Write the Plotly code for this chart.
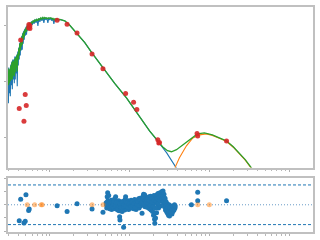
import numpy as np
import plotly.graph_objects as go
from plotly.subplots import make_subplots

# ---------------- data (log10 wavelength [um], log10 flux) ----------------
spec_loglam = [-0.525, -0.520, -0.515, -0.509, -0.503, -0.496, -0.490, -0.484, -0.478, -0.471,
               -0.465, -0.459, -0.453, -0.446, -0.440, -0.434, -0.428, -0.421, -0.415, -0.409,
               -0.403, -0.396, -0.390, -0.384, -0.378, -0.371, -0.365, -0.359, -0.353, -0.346,
               -0.340, -0.334, -0.328, -0.321, -0.315, -0.308, -0.300, -0.293, -0.285, -0.278,
               -0.269, -0.260, -0.250, -0.240, -0.230, -0.220, -0.209, -0.198, -0.186, -0.175,
               -0.163, -0.150, -0.138, -0.125, -0.113, -0.100, -0.088, -0.075, -0.063, -0.050,
               -0.038, -0.025, -0.013, 0.000, 0.013, 0.025, 0.038, 0.050, 0.063, 0.075,
               0.088, 0.106, 0.125]
star_spec_logf = [-9.850, -10.381, -9.743, -10.204, -9.779, -10.257, -9.690, -10.062, -9.637, -10.133,
                  -9.602, -9.956, -9.602, -10.027, -9.549, -9.956, -9.549, -9.850, -9.513, -10.080,
                  -9.460, -9.708, -9.389, -9.602, -9.301, -9.531, -9.230, -9.442, -9.177, -9.425,
                  -9.124, -9.319, -9.088, -9.248, -9.053, -9.177, -9.018, -9.159, -8.982, -9.088,
                  -8.965, -9.053, -8.938, -9.018, -8.920, -8.982, -8.903, -8.965, -8.885, -8.947,
                  -8.876, -9.000, -8.867, -8.929, -8.858, -8.912, -8.850, -8.947, -8.850, -8.894,
                  -8.858, -8.947, -8.858, -8.894, -8.858, -8.912, -8.867, -8.965, -8.876, -8.912,
                  -8.876, -8.903, -8.885]
total_spec_logf = [-9.814, -10.062, -9.761, -10.027, -9.779, -9.991, -9.708, -9.956, -9.655, -9.956,
                   -9.619, -9.885, -9.637, -9.903, -9.584, -9.832, -9.566, -9.743, -9.531, -9.814,
                   -9.496, -9.602, -9.407, -9.531, -9.319, -9.442, -9.248, -9.372, -9.195, -9.336,
                   -9.142, -9.248, -9.106, -9.195, -9.071, -9.124, -9.035, -9.106, -9.000, -9.053,
                   -8.965, -9.018, -8.947, -8.982, -8.929, -8.947, -8.912, -8.929, -8.894, -8.912,
                   -8.885, -8.912, -8.867, -8.894, -8.858, -8.876, -8.850, -8.876, -8.850, -8.867,
                   -8.858, -8.876, -8.858, -8.867, -8.858, -8.876, -8.867, -8.894, -8.876, -8.885,
                   -8.876, -8.894, -8.885]

# smooth photosphere tail
star_tail_loglam = [0.188, 0.250, 0.300, 0.338, 0.438, 0.525, 0.663, 0.813, 0.963, 1.163,
                    1.250, 1.350, 1.463, 1.575, 1.700]
star_tail_logf = [-8.912, -8.991, -9.071, -9.124, -9.301, -9.478, -9.743, -10.027, -10.292, -10.699,
                  -10.876, -11.053, -11.265, -11.513, -11.761]

# total model beyond the shared part
total_tail_loglam = [1.350, 1.413, 1.475, 1.525, 1.588, 1.688, 1.775, 1.850, 1.938, 2.038,
                     2.125, 2.213, 2.300, 2.375, 2.450, 2.525, 2.650]
total_tail_logf = [-11.044, -11.159, -11.230, -11.248, -11.212, -11.106, -11.000, -10.929, -10.912, -10.947,
                   -11.000, -11.053, -11.159, -11.265, -11.389, -11.531, -11.761]

# dust component
dust_loglam = [1.525, 1.575, 1.625, 1.713, 1.788, 1.875, 1.963, 2.038, 2.125, 2.213,
               2.300, 2.375, 2.450, 2.525, 2.650]
dust_logf = [-11.850, -11.513, -11.354, -11.142, -11.009, -10.947, -10.929, -10.956, -11.009, -11.062,
             -11.168, -11.274, -11.398, -11.540, -11.770]

# photometry
phot_loglam = [-0.384, -0.366, -0.325, -0.309, -0.296, -0.266, -0.263, -0.250, -0.250, 0.091,
               0.216, 0.341, 0.529, 0.666, 0.950, 1.050, 1.091, 1.354, 1.366, 1.375,
               1.846, 1.854, 2.216]
phot_logf = [-10.474, -9.253, -10.704, -10.227, -10.421, -9.035, -8.977, -9.000, -9.048, -8.899,
             -8.970, -9.129, -9.501, -9.766, -10.209, -10.363, -10.492, -11.035, -11.094, -11.083,
             -10.924, -10.965, -11.058]

# residuals: photometry
res_phot_loglam = [-0.384, -0.366, -0.325, -0.309, -0.300, -0.266, -0.259, 0.091, 0.216, 0.341,
                   0.529, 0.666, 1.775, 1.854, 1.854, 2.216]
res_phot = [-2.4, 0.85, -2.75, -2.5, 1.5, -0.85, -0.65, -0.15, -1.0, 0.15,
            -0.65, -1.15, 0.0, 1.9, 0.6, 0.6]

# residuals: spectrum
res_spec_loglam = [0.706, 0.713, 0.719, 0.725, 0.729, 0.733, 0.738, 0.744, 0.750, 0.756,
                   0.763, 0.769, 0.775, 0.781, 0.788, 0.794, 0.800, 0.806, 0.813, 0.819,
                   0.825, 0.831, 0.838, 0.844, 0.850, 0.856, 0.863, 0.869, 0.875, 0.879,
                   0.883, 0.888, 0.894, 0.900, 0.906, 0.913, 0.919, 0.925, 0.931, 0.938,
                   0.944, 0.950, 0.956, 0.963, 0.969, 0.975, 0.981, 0.988, 0.994, 1.000,
                   1.006, 1.013, 1.019, 1.025, 1.031, 1.038, 1.044, 1.050, 1.056, 1.063,
                   1.069, 1.075, 1.081, 1.088, 1.094, 1.100, 1.106, 1.113, 1.119, 1.125,
                   1.131, 1.138, 1.144, 1.150, 1.156, 1.163, 1.169, 1.175, 1.181, 1.188,
                   1.194, 1.200, 1.206, 1.213, 1.219, 1.225, 1.231, 1.238, 1.244, 1.250,
                   1.256, 1.263, 1.269, 1.275, 1.281, 1.288, 1.294, 1.300, 1.306, 1.313,
                   1.316, 1.320, 1.325, 1.331, 1.338, 1.344, 1.350, 1.356, 1.363, 1.369,
                   1.375, 1.381, 1.388, 1.394, 1.400, 1.406, 1.413, 1.419, 1.425, 1.431,
                   1.438, 1.444, 1.450, 1.456, 1.463, 1.469, 1.475, 1.481, 1.488, 1.494,
                   1.500, 1.506, 1.513, 1.519, 1.525, 1.531, 1.538, 1.544, 1.550, 1.556,
                   1.563, 1.569]
res_spec = [0.3, -0.5, 1.2, 1.8, 0.6, -0.3, 1.4, 0.2, -0.6, 0.5,
            -0.2, 0.7, -0.7, 0.1, 0.4, -0.5, 0.6, -0.1, 0.9, -0.6,
            1.2, 0.2, -0.4, 0.5, -0.8, 0.1, 0.6, -0.9, -1.8, -2.3,
            -0.2, 0.4, -0.7, 0.3, -1.0, 0.5, -0.5, -3.4, 0.2, -0.8,
            0.8, 1.2, 0.0, -0.6, 0.4, -0.3, 0.6, -0.7, 0.2, 0.5,
            -0.4, 0.1, 0.7, -0.5, 0.3, -0.2, 0.6, -0.6, 0.2, 0.8,
            -0.3, 0.4, -0.7, 0.1, 0.6, -0.4, 0.3, 0.9, -0.5, 0.5,
            1.0, -0.2, 0.8, 0.2, -1.3, 0.6, 1.3, 1.6, 0.4, 1.5,
            -0.3, 0.7, 1.1, 0.0, 0.9, -0.4, 1.0, 0.3, 1.2, -0.6,
            0.5, 1.3, -0.8, 0.6, 1.1, -1.0, 0.2, -1.6, 1.4, -2.2,
            -2.8, 0.4, -2.0, 1.0, -1.2, 1.5, 0.1, 1.7, -0.5, 1.2,
            0.6, 1.8, -0.2, 1.5, 0.8, 2.0, 1.4, 2.1, 0.3, 1.6,
            -0.3, 1.0, -0.8, 0.5, -1.0, 0.2, -1.3, -0.4, -1.6, 0.0,
            -1.7, -0.6, -1.2, -0.2, -0.9, -1.4, -0.5, -1.0, -0.2, -0.8,
            0.0, -0.5]

# residuals: second spectral order (interleaved)
res_spec2_loglam = [0.709, 0.722, 0.734, 0.747, 0.759, 0.772, 0.784, 0.797, 0.809, 0.822,
                    0.834, 0.847, 0.859, 0.872, 0.884, 0.897, 0.909, 0.922, 0.934, 0.947,
                    0.959, 0.972, 0.984, 0.997, 1.009, 1.022, 1.034, 1.047, 1.059, 1.072,
                    1.084, 1.097, 1.109, 1.122, 1.134, 1.147, 1.159, 1.172, 1.184, 1.197,
                    1.209, 1.222, 1.234, 1.247, 1.259, 1.272, 1.284, 1.297, 1.309, 1.322,
                    1.334, 1.347, 1.359, 1.372, 1.384, 1.397, 1.409, 1.422, 1.434, 1.447,
                    1.459, 1.472, 1.484, 1.497, 1.509, 1.522, 1.534, 1.547, 1.559, 1.572]
res_spec2 = [0.0, 0.4, -0.2, 0.3, -0.4, 0.2, -0.3, 0.1, 0.5, -0.2,
             0.3, -0.5, 0.2, -0.3, 0.1, -0.4, 0.3, -0.2, 0.0, 0.4,
             -0.2, 0.3, -0.4, 0.1, 0.2, -0.3, 0.4, -0.1, 0.2, -0.4,
             0.3, 0.0, 0.5, -0.1, 0.6, 0.2, 0.4, 0.9, 0.1, 0.7,
             0.3, 0.8, 0.2, 0.6, -0.1, 0.9, 0.4, -0.3, 0.7, -0.5,
             0.5, 0.9, 0.2, 1.1, 0.6, 1.2, 0.9, 0.5, 1.0, 0.2,
             -0.2, -0.6, -0.3, -0.9, -0.5, -1.1, -0.7, -0.3, -0.6, -0.2]

# residuals: upper limits / excluded points
res_lim_loglam = [-0.284, -0.191, -0.109, -0.096, 0.529, 0.666, 1.854, 2.000]
res_lim = [0, 0, 0, 0, 0, 0, 0, 0]

sigma_lines = [-3, 3]
zero_line = 0

# ---------------- figure ----------------
def p10(a):
    return 10 ** np.asarray(a, dtype=float)

C0, C1, C2, C3 = '#1f77b4', '#ff7f0e', '#2ca02c', '#d62728'

fig = make_subplots(rows=2, cols=1, shared_xaxes=True, vertical_spacing=0.0)

star_x = p10(spec_loglam + star_tail_loglam)
star_y = p10(star_spec_logf + star_tail_logf)
shared_n = star_tail_loglam.index(1.250) + 1
tot_x = p10(spec_loglam + star_tail_loglam[:shared_n] + total_tail_loglam)
tot_y = p10(total_spec_logf + star_tail_logf[:shared_n] + total_tail_logf)

fig.add_trace(go.Scatter(x=star_x, y=star_y, mode='lines',
                         line=dict(color=C0, width=1.1)), row=1, col=1)
fig.add_trace(go.Scatter(x=p10(dust_loglam), y=p10(dust_logf), mode='lines',
                         line=dict(color=C1, width=1.1)), row=1, col=1)
fig.add_trace(go.Scatter(x=tot_x, y=tot_y, mode='lines',
                         line=dict(color=C2, width=1.3)), row=1, col=1)
fig.add_trace(go.Scatter(x=p10(phot_loglam), y=p10(phot_logf), mode='markers',
                         marker=dict(color=C3, size=5, opacity=0.9, line=dict(width=0))),
              row=1, col=1)

for s in sigma_lines:
    fig.add_shape(type='line', xref='x2 domain', yref='y2', x0=0, x1=1, y0=s, y1=s,
                  line=dict(color=C0, width=1, dash='3px,2px'), layer='below')
fig.add_shape(type='line', xref='x2 domain', yref='y2', x0=0, x1=1, y0=zero_line, y1=zero_line,
              line=dict(color='#6a9cc8', width=1, dash='1px,2px'), layer='below')

fig.add_trace(go.Scatter(x=p10(res_spec_loglam), y=res_spec, mode='markers',
                         marker=dict(color=C0, size=5, line=dict(width=0))), row=2, col=1)
fig.add_trace(go.Scatter(x=p10(res_spec2_loglam), y=res_spec2, mode='markers',
                         marker=dict(color=C0, size=5, line=dict(width=0))), row=2, col=1)
fig.add_trace(go.Scatter(x=p10(res_phot_loglam), y=res_phot, mode='markers',
                         marker=dict(color=C0, size=5, line=dict(width=0))), row=2, col=1)
fig.add_trace(go.Scatter(x=p10(res_lim_loglam), y=res_lim, mode='markers',
                         marker=dict(color=C1, size=5, opacity=0.5, line=dict(width=0))),
              row=2, col=1)

xmaj = [0.1, 1, 10, 100, 1000]
xmin = [k * d for d in xmaj for k in range(2, 10)]
ymaj = [1e-12, 1e-11, 1e-10, 1e-9, 1e-8]

axis_common = dict(showline=True, mirror=True, linecolor='#c0c0c0', linewidth=2,
                   showgrid=False, zeroline=False, showticklabels=False,
                   ticks='outside', ticklen=2, tickwidth=1, tickcolor='#b0b0b0')

for r in (1, 2):
    fig.update_xaxes(type='log', range=[-0.525, 3.3], tickmode='array', tickvals=xmaj,
                     minor=dict(tickmode='array', tickvals=xmin, ticks='outside', ticklen=1.5,
                                tickwidth=1, tickcolor='#b8b8b8'),
                     row=r, col=1, **axis_common)
fig.update_yaxes(type='log', range=[-11.531, -8.664], tickmode='array', tickvals=ymaj,
                 domain=[0.2863, 1.0], row=1, col=1, **axis_common)
fig.update_yaxes(range=[-4.12, 4.05], tickmode='array', tickvals=[-4, -2, 0, 2, 4],
                 domain=[0.0, 0.240], row=2, col=1, **axis_common)

fig.update_layout(width=320, height=240, margin=dict(l=8, r=6, t=5, b=8),
                  paper_bgcolor='white', plot_bgcolor='white', showlegend=False)

fig.write_html("out.html")
